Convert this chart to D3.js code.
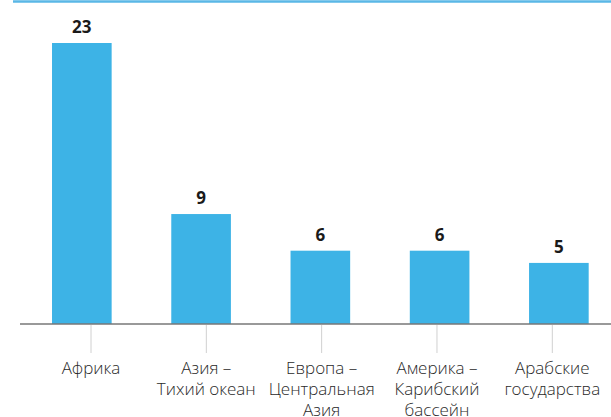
<!DOCTYPE html>
<html><head><meta charset="utf-8">
<script src="https://cdn.jsdelivr.net/npm/d3@7"></script>
<style>body{margin:0;background:#fff}svg{display:block}</style>
</head><body>
<script>
const categories = ["Африка", "Азия – Тихий океан", "Европа – Центральная Азия", "Америка – Карибский бассейн", "Арабские государства"];
const labelLines = [["Африка"], ["Азия –", "Тихий океан"], ["Европа –", "Центральная", "Азия"], ["Америка –", "Карибский", "бассейн"], ["Арабские", "государства"]];
const values = [23, 9, 6, 6, 5];

const W = 611, H = 417;
const svg = d3.select("body").append("svg").attr("width", W).attr("height", H);

// top rule
svg.append("line").attr("x1", 13).attr("x2", W).attr("y1", 1.5).attr("y2", 1.5)
  .attr("stroke", "#5ab7e6").attr("stroke-width", 2.5);

const x = d3.scaleBand().domain(categories).range([22.2, 618.5]).paddingInner(0.5).paddingOuter(0.25);
const xt = d3.scalePoint().domain(categories).range([91, 552.3]);
const y = d3.scaleLinear().domain([0, 23]).range([324, 43]);

svg.selectAll("rect.bar").data(values).join("rect").attr("class", "bar")
  .attr("x", (d, i) => x(categories[i])).attr("width", x.bandwidth())
  .attr("y", d => y(d)).attr("height", d => y(0) - y(d))
  .attr("fill", "#3db3e6");

svg.selectAll("text.val").data(values).join("text").attr("class", "val")
  .attr("x", (d, i) => x(categories[i]) + x.bandwidth() / 2)
  .attr("y", d => y(d) - 10)
  .attr("text-anchor", "middle")
  .attr("font-family", "Open Sans, sans-serif").attr("font-weight", 700)
  .attr("font-size", 17).attr("fill", "#1a1a1a")
  .text(d => d);

// baseline
svg.append("line").attr("x1", 20).attr("x2", W).attr("y1", 324).attr("y2", 324)
  .attr("stroke", "#777").attr("stroke-width", 1.5);

// ticks
svg.selectAll("line.tick").data(categories).join("line").attr("class", "tick")
  .attr("x1", d => xt(d)).attr("x2", d => xt(d)).attr("y1", 325).attr("y2", 353)
  .attr("stroke", "#d0d0d0").attr("stroke-width", 1);

const lab = svg.selectAll("text.lab").data(categories).join("text").attr("class", "lab")
  .attr("x", d => xt(d)).attr("y", 374)
  .attr("text-anchor", "middle")
  .attr("font-family", "Open Sans, sans-serif").attr("font-weight", 300)
  .attr("font-size", 17).attr("fill", "#2a2a2a");
lab.each(function(d, i) {
  d3.select(this).selectAll("tspan").data(labelLines[i]).join("tspan")
    .attr("x", xt(d)).attr("dy", (t, j) => j === 0 ? 0 : 21).text(t => t);
});
</script>
</body></html>
